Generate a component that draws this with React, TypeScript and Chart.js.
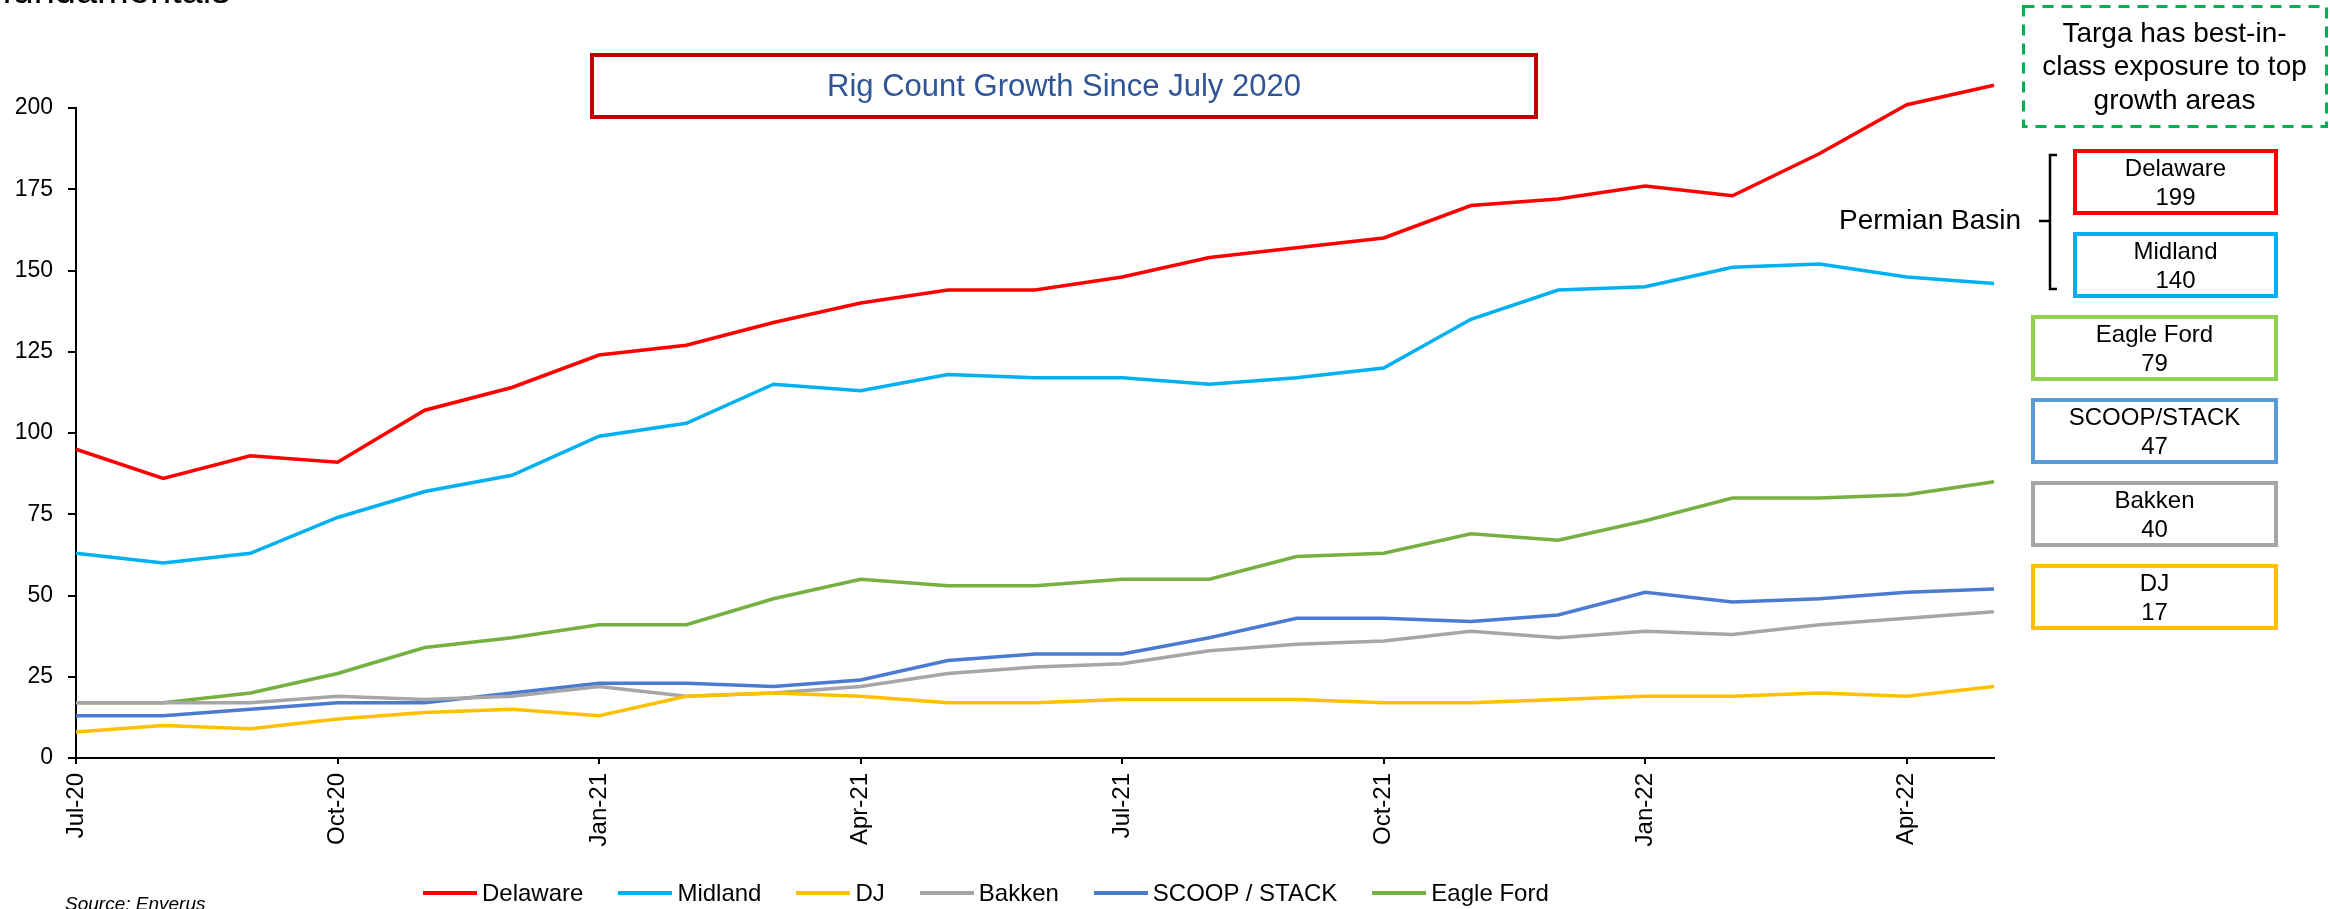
import React, { useEffect, useRef } from "react";
import { Chart, registerables } from "chart.js";

Chart.register(...registerables);

const FONT = '"Liberation Sans", Arial, Helvetica, sans-serif';

// x positions in months since Jul-20
const monthIndex = [0, 1, 2, 3, 4, 5, 6, 7, 8, 9, 10, 11, 12, 13, 14, 15, 16, 17, 18, 19, 20, 21, 22];
const tickMonths = [0, 3, 6, 9, 12, 15, 18, 21];
const tickLabels = ["Jul-20", "Oct-20", "Jan-21", "Apr-21", "Jul-21", "Oct-21", "Jan-22", "Apr-22"];

const delaware = [95, 86, 93, 91, 107, 114, 124, 127, 134, 140, 144, 144, 148, 154, 157, 160, 170, 172, 176, 173, 186, 201, 207];
const midland = [63, 60, 63, 74, 82, 87, 99, 103, 115, 113, 118, 117, 117, 115, 117, 120, 135, 144, 145, 151, 152, 148, 146];
const dj = [8, 10, 9, 12, 14, 15, 13, 19, 20, 19, 17, 17, 18, 18, 18, 17, 17, 18, 19, 19, 20, 19, 22];
const bakken = [17, 17, 17, 19, 18, 19, 22, 19, 20, 22, 26, 28, 29, 33, 35, 36, 39, 37, 39, 38, 41, 43, 45];
const scoopStack = [13, 13, 15, 17, 17, 20, 23, 23, 22, 24, 30, 32, 32, 37, 43, 43, 42, 44, 51, 48, 49, 51, 52];
const eagleFord = [17, 17, 20, 26, 34, 37, 41, 41, 49, 55, 53, 53, 55, 55, 62, 63, 69, 67, 73, 80, 80, 81, 85];

const seriesNames = ["Delaware", "Midland", "DJ", "Bakken", "SCOOP / STACK", "Eagle Ford"];
const seriesValues = [delaware, midland, dj, bakken, scoopStack, eagleFord];
const seriesColors = ["#FF0000", "#00B0F0", "#FFC000", "#A6A6A6", "#4A7BD0", "#76B041"];

const yMin = 0;
const yMax = 200;
const yStep = 25;

const boxNames = ["Delaware", "Midland", "Eagle Ford", "SCOOP/STACK", "Bakken", "DJ"];
const boxValues = [199, 140, 79, 47, 40, 17];
const boxColors = ["#FF0000", "#00B0F0", "#92D050", "#5B9BD5", "#A6A6A6", "#FFC000"];

const titleText = "Rig Count Growth Since July 2020";
const calloutLines = ["Targa has best-in-", "class exposure to top", "growth areas"];

export default function App() {
  const canvasRef = useRef<HTMLCanvasElement>(null);

  useEffect(() => {
    if (!canvasRef.current) return;
    const datasets = seriesValues.map((vals, i) => ({
      label: seriesNames[i],
      data: vals.map((v, j) => ({ x: monthIndex[j], y: v })),
      borderColor: seriesColors[i],
      backgroundColor: seriesColors[i],
      borderWidth: 3.5,
      pointRadius: 0,
      pointHoverRadius: 0,
      tension: 0,
      clip: false as any,
    }));
    const chart = new Chart(canvasRef.current, {
      type: "line",
      data: { datasets },
      options: {
        responsive: false,
        animation: false,
        layout: { padding: { left: 0, top: 108, right: 336, bottom: 0 } },
        plugins: {
          legend: { display: false },
          tooltip: { enabled: false },
        },
        scales: {
          x: {
            type: "linear",
            min: monthIndex[0],
            max: monthIndex[monthIndex.length - 1],
            afterBuildTicks: (s: any) => {
              s.ticks = tickMonths.map((v) => ({ value: v }));
            },
            afterFit: (s: any) => {
              s.height = 151;
            },
            ticks: {
              autoSkip: false,
              minRotation: 90,
              maxRotation: 90,
              padding: 9,
              color: "#000",
              font: { family: FONT, size: 24 },
              callback: (_v: any, i: number) => tickLabels[i] ?? "",
            },
            grid: { drawOnChartArea: false, drawTicks: true, tickLength: 6, color: "#000", lineWidth: 2 },
            border: { color: "#000", width: 2 },
          },
          y: {
            min: yMin,
            max: yMax,
            ticks: { stepSize: yStep, padding: 15, color: "#000", font: { family: FONT, size: 23 } },
            grid: { drawOnChartArea: false, drawTicks: true, tickLength: 8, color: "#000", lineWidth: 2 },
            border: { color: "#000", width: 2 },
            afterFit: (s: any) => {
              s.width = 76;
            },
          },
        },
      } as any,
    });
    return () => chart.destroy();
  }, []);

  return (
    <div
      style={{
        position: "absolute",
        left: 0,
        top: 0,
        width: 2330,
        height: 909,
        overflow: "hidden",
        background: "#fff",
        fontFamily: FONT,
        color: "#000",
      }}
    >
      <canvas ref={canvasRef} width={2330} height={909} style={{ position: "absolute", left: 0, top: 0 }} />

      {/* cropped page heading */}
      <div style={{ position: "absolute", left: 2, top: -29, fontSize: 38, lineHeight: "38px", whiteSpace: "nowrap" }}>
        fundamentals
      </div>

      {/* chart title box */}
      <div
        style={{
          position: "absolute",
          left: 590,
          top: 53,
          width: 948,
          height: 66,
          boxSizing: "border-box",
          border: "4px solid #C00000",
          display: "flex",
          alignItems: "center",
          justifyContent: "center",
          color: "#2F5597",
          fontSize: 31,
          whiteSpace: "nowrap",
        }}
      >
        {titleText}
      </div>

      {/* lines: dashed callout frame and bracket */}
      <svg width={2330} height={909} style={{ position: "absolute", left: 0, top: 0, pointerEvents: "none" }}>
        <rect x={2023.5} y={6.5} width={303} height={120} fill="none" stroke="#00B050" strokeWidth={3} strokeDasharray="11 8" />
        <path d="M 2057 155 H 2050 V 221 H 2039 M 2050 221 V 289 H 2057" fill="none" stroke="#000" strokeWidth={2.5} />
      </svg>

      {/* callout text */}
      <div
        style={{
          position: "absolute",
          left: 2023,
          top: 6,
          width: 303,
          height: 120,
          display: "flex",
          flexDirection: "column",
          alignItems: "center",
          justifyContent: "center",
          fontSize: 28,
          lineHeight: "33.5px",
          textAlign: "center",
          whiteSpace: "nowrap",
        }}
      >
        {calloutLines.map((t, i) => (
          <div key={i}>{t}</div>
        ))}
      </div>

      {/* Permian Basin label */}
      <div style={{ position: "absolute", left: 1839, top: 204, fontSize: 28, lineHeight: "32px", whiteSpace: "nowrap" }}>
        Permian Basin
      </div>

      {/* basin boxes */}
      {boxNames.map((name, i) => {
        const wide = i >= 2;
        return (
          <div
            key={name}
            style={{
              position: "absolute",
              left: wide ? 2031 : 2073,
              top: 149 + 83 * i,
              width: wide ? 247 : 205,
              height: 66,
              boxSizing: "border-box",
              border: `4px solid ${boxColors[i]}`,
              display: "flex",
              flexDirection: "column",
              alignItems: "center",
              justifyContent: "center",
              fontSize: 24,
              lineHeight: "29px",
              whiteSpace: "nowrap",
            }}
          >
            <div>{name}</div>
            <div>{boxValues[i]}</div>
          </div>
        );
      })}

      {/* legend */}
      <div
        style={{
          position: "absolute",
          left: 423,
          top: 881,
          display: "flex",
          alignItems: "center",
          gap: 35,
          fontSize: 24,
          lineHeight: "24px",
          whiteSpace: "nowrap",
        }}
      >
        {seriesNames.map((n, i) => (
          <div key={n} style={{ display: "flex", alignItems: "center" }}>
            <span style={{ display: "inline-block", width: 54, height: 4, background: seriesColors[i], marginRight: 5 }} />
            <span>{n}</span>
          </div>
        ))}
      </div>

      {/* source */}
      <div
        style={{
          position: "absolute",
          left: 65,
          top: 894,
          fontSize: 19,
          lineHeight: "19px",
          fontStyle: "italic",
          whiteSpace: "nowrap",
        }}
      >
        Source: Enverus
      </div>
    </div>
  );
}
